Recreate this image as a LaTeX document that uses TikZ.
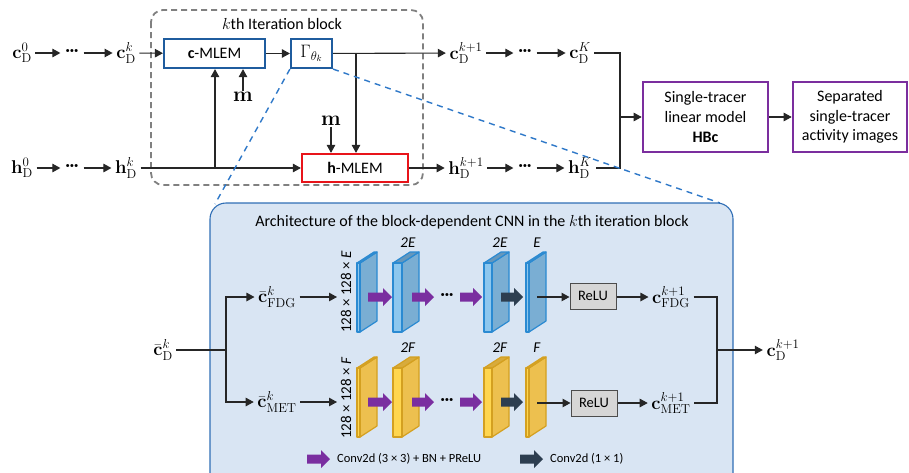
\RequirePackage{fix-cm}
\documentclass[tikz,border=0pt]{standalone}
\usepackage[no-math]{fontspec}
\setmainfont{Carlito}
\usetikzlibrary{arrows.meta}

\definecolor{mlemblue}{HTML}{1F5C9E}
\definecolor{mlemred}{HTML}{E8141A}
\definecolor{hbcpurple}{HTML}{7B2E9E}
\definecolor{panelfill}{HTML}{D9E5F3}
\definecolor{panelline}{HTML}{2F6EB5}
\definecolor{zoomblue}{HTML}{2E78C8}
\definecolor{fdgside}{HTML}{7AAED3}
\definecolor{fdgfront}{HTML}{8DC7EE}
\definecolor{fdgtop}{HTML}{6597BC}
\definecolor{fdgedge}{HTML}{2A8AD2}
\definecolor{metside}{HTML}{EDC04F}
\definecolor{metfront}{HTML}{FFD64F}
\definecolor{mettop}{HTML}{D8AB3C}
\definecolor{metedge}{HTML}{D4A020}
\definecolor{convpurple}{HTML}{7A2EA0}
\definecolor{convdark}{HTML}{2D3E50}
\definecolor{reluface}{HTML}{D6D6D6}

% feature-map slab: x, top y, front width, colour prefix
\newcommand{\slab}[4]{%
  \filldraw[fill=#4side, draw=#4edge, line width=1.2pt, line join=round]
    (#1+#3,#2) -- ++(17,-11) -- ++(0,69) -- ++(-17,11) -- cycle;
  \filldraw[fill=#4top, draw=#4edge, line width=1.2pt, line join=round]
    (#1,#2) -- ++(#3,0) -- ++(17,-11) -- ++(-#3,0) -- cycle;
  \filldraw[fill=#4front, draw=#4edge, line width=1.2pt, line join=round]
    (#1,#2) rectangle ++(#3,69);
}
% thick layer arrow: start x, tip x, y, colour
\newcommand{\layerarrow}[4]{%
  \fill[#4] (#1,#3-4.5) -- (#2-9,#3-4.5) -- (#2-9,#3-9) -- (#2,#3)
    -- (#2-9,#3+9) -- (#2-9,#3+4.5) -- (#1,#3+4.5) -- cycle;
}
\newcommand{\chaindots}{\textbf{···}}

\tikzset{
  conn/.style={line width=1.1pt, draw=black!85, -{Triangle[length=8pt,width=8.5pt]}},
  wire/.style={line width=1.1pt, draw=black!85},
  lab/.style={inner sep=3.5pt, font=\fontsize{18.5}{21}\selectfont},
  dotlab/.style={inner sep=5pt, font=\fontsize{16}{19}\selectfont},
  mlembox/.style={line width=2.2pt, fill=white, inner sep=0pt},
  hbcbox/.style={draw=hbcpurple, line width=2.6pt, align=center, inner sep=0pt,
    minimum height=70pt},
  relubox/.style={draw=black!70, fill=reluface, line width=1pt, minimum width=46pt,
    minimum height=26pt, inner sep=0pt, font=\fontsize{14.5}{17}\selectfont},
  zoomline/.style={draw=zoomblue, line width=1.4pt, dash pattern=on 6pt off 5pt},
  iterbox/.style={draw=black!50, line width=1.8pt, dash pattern=on 6pt off 4pt,
    rounded corners=12pt},
  panel/.style={draw=panelline, fill=panelfill, line width=1.1pt, rounded corners=16pt},
  dimlabel/.style={font=\fontsize{15}{18}\selectfont, inner sep=0pt},
  legendtext/.style={font=\fontsize{12.5}{15}\selectfont, anchor=west, inner sep=0pt},
  mlab/.style={font=\fontsize{21}{23}\selectfont, inner sep=1pt},
}

\begin{document}
\begin{tikzpicture}[x=1pt, y=-1pt, font=\fontsize{16}{19.6}\selectfont]
\clip (0,0) rectangle (909,472);

% ---------- iteration block frame ----------
\draw[iterbox] (151,10) rectangle (423,185);
\node (itertitle) at (282,24) {$k$th Iteration block};

% ---------- c chain ----------
\node[lab] (cD0)   at (22,53)  {$\mathbf{c}_{\mathrm{D}}^{0}$};
\node[dotlab] (cdl) at (72,53) {\chaindots};
\node[lab] (cDk)   at (126,53) {$\mathbf{c}_{\mathrm{D}}^{k}$};
\node[mlembox, draw=mlemblue, minimum width=101pt, minimum height=29pt]
  (cmlem) at (214.5,53.5) {\textbf{c}-MLEM};
\node[mlembox, draw=mlemblue, minimum width=41pt, minimum height=29pt,
  font=\fontsize{18}{20}\selectfont]
  (gamma) at (311.5,53.5) {$\Gamma_{\theta_k}$};
\node[lab] (cDk1)  at (466,53) {$\mathbf{c}_{\mathrm{D}}^{k+1}$};
\node[dotlab] (cdr) at (525,53) {\chaindots};
\node[lab] (cDK)   at (580,53) {$\mathbf{c}_{\mathrm{D}}^{K}$};

% ---------- h chain ----------
\node[lab] (hD0)   at (22,168)  {$\mathbf{h}_{\mathrm{D}}^{0}$};
\node[dotlab] (hdl) at (72,168) {\chaindots};
\node[lab] (hDk)   at (126,168) {$\mathbf{h}_{\mathrm{D}}^{k}$};
\node[mlembox, draw=mlemred, minimum width=106pt, minimum height=28pt]
  (hmlem) at (355,168) {\textbf{h}-MLEM};
\node[lab] (hDk1)  at (466,168) {$\mathbf{h}_{\mathrm{D}}^{k+1}$};
\node[dotlab] (hdr) at (525,168) {\chaindots};
\node[lab] (hDK)   at (580,168) {$\mathbf{h}_{\mathrm{D}}^{K}$};

% measured data inputs
\node[mlab] (m1) at (243,97) {$\mathbf{m}$};
\node[mlab] (m2) at (331,121) {$\mathbf{m}$};

% output boxes
\node[hbcbox, minimum width=125pt] (single) at (705.5,117)
  {Single-tracer\\linear model\\\textbf{HBc}};
\node[hbcbox, minimum width=114pt] (separated) at (850,117)
  {Separated\\single-tracer\\activity images};

% ---------- top connectors ----------
\draw[conn] (cD0) -- (cdl);
\draw[conn] (cdl) -- (cDk);
\draw[conn] (cDk) -- (cmlem);
\draw[conn] (cmlem) -- (gamma);
\draw[conn] (gamma) -- (cDk1);
\draw[conn] (cDk1) -- (cdr);
\draw[conn] (cdr) -- (cDK);

\draw[conn] (hD0) -- (hdl);
\draw[conn] (hdl) -- (hDk);
\draw[conn] (hDk) -- (hmlem);
\draw[conn] (hmlem) -- (hDk1);
\draw[conn] (hDk1) -- (hdr);
\draw[conn] (hdr) -- (hDK);

\coordinate (hjoin) at (215,168);
\draw[conn] (hjoin) -- (hjoin |- cmlem.south);
\draw[conn] (m1) -- (m1 |- cmlem.south);
\coordinate (gjoin) at (356,53.5);
\draw[conn] (gjoin) -- (gjoin |- hmlem.north);
\draw[conn] (m2) -- (m2 |- hmlem.north);

\coordinate (merge) at (620,117);
\draw[wire] (cDK.east) -| (merge) |- (hDK.east);
\draw[conn] (merge) -- (single);
\draw[conn] (single) -- (separated);

% ---------- zoom-in lines and CNN panel ----------
\draw[zoomline] (gamma.south west) -- (215,204);
\draw[zoomline] (gamma.south east) -- (720,203);
\draw[panel] (210,203) rectangle (733,495);
\node (paneltitle) at (472,222)
  {Architecture of the block-dependent CNN in the $k$th iteration block};

% inputs
\node[lab] (cbarD)   at (163,350) {$\bar{\mathbf{c}}_{\mathrm{D}}^{k}$};
\node[lab] (cbarFDG) at (277,297) {$\bar{\mathbf{c}}_{\mathrm{FDG}}^{k}$};
\node[lab] (cbarMET) at (277,402) {$\bar{\mathbf{c}}_{\mathrm{MET}}^{k}$};
\coordinate (split) at (226,350);
\draw[wire] (cbarD) -- (split);
\draw[conn] (split) |- (cbarFDG);
\draw[conn] (split) |- (cbarMET);

\coordinate (fdgin) at (337,297);
\coordinate (metin) at (337,402);
\draw[conn] (cbarFDG) -- (fdgin);
\draw[conn] (cbarMET) -- (metin);

\node[dimlabel, rotate=90] (fdgdim) at (346,292) {128 × 128 × \textit{E}};
\node[dimlabel, rotate=90] (metdim) at (346,398) {128 × 128 × \textit{F}};

% FDG branch slabs
\slab{357}{263}{3}{fdg}
\slab{393}{263}{9}{fdg}
\slab{484}{263}{8}{fdg}
\slab{526}{263}{3}{fdg}
% MET branch slabs
\slab{357}{368}{3}{met}
\slab{393}{368}{9}{met}
\slab{484}{368}{8}{met}
\slab{526}{368}{3}{met}

\node[dimlabel] (e1) at (408,243) {\textit{2E}};
\node[dimlabel] (e2) at (500,243) {\textit{2E}};
\node[dimlabel] (e3) at (537,243) {\textit{E}};
\node[dimlabel] (f1) at (408,348) {\textit{2F}};
\node[dimlabel] (f2) at (500,348) {\textit{2F}};
\node[dimlabel] (f3) at (537,348) {\textit{F}};

\foreach \yy in {297,402}{
  \layerarrow{368}{392}{\yy}{convpurple}
  \layerarrow{412}{434}{\yy}{convpurple}
  \layerarrow{460}{482}{\yy}{convpurple}
  \layerarrow{501}{523}{\yy}{convdark}
}
\node[dotlab] (fdgdots) at (447,297) {\chaindots};
\node[dotlab] (metdots) at (447,402) {\chaindots};

% activation and outputs
\node[relubox] (relu1) at (593,296) {ReLU};
\node[relubox] (relu2) at (594,403) {ReLU};
\coordinate (fdgout) at (537,297);
\coordinate (metout) at (537,403);
\draw[conn] (fdgout) -- (relu1.west |- fdgout);
\draw[conn] (metout) -- (relu2.west |- metout);

\node[lab] (cFDG) at (671,297) {$\mathbf{c}_{\mathrm{FDG}}^{k+1}$};
\node[lab] (cMET) at (671,403) {$\mathbf{c}_{\mathrm{MET}}^{k+1}$};
\draw[conn] (relu1.east |- fdgout) -- (cFDG.west |- fdgout);
\draw[conn] (relu2.east |- metout) -- (cMET.west |- metout);

\coordinate (join) at (717,350);
\draw[wire] (cFDG.east) -| (join) |- (cMET.east);
\node[lab] (cDnext) at (783,350) {$\mathbf{c}_{\mathrm{D}}^{k+1}$};
\draw[conn] (join) -- (cDnext);

% legend
\layerarrow{307}{330}{459}{convpurple}
\node[legendtext] (leg1) at (337,459) {Conv2d (3 × 3) + BN + PReLU};
\layerarrow{520}{543}{459}{convdark}
\node[legendtext] (leg2) at (550,459) {Conv2d (1 × 1)};
\end{tikzpicture}
\end{document}
